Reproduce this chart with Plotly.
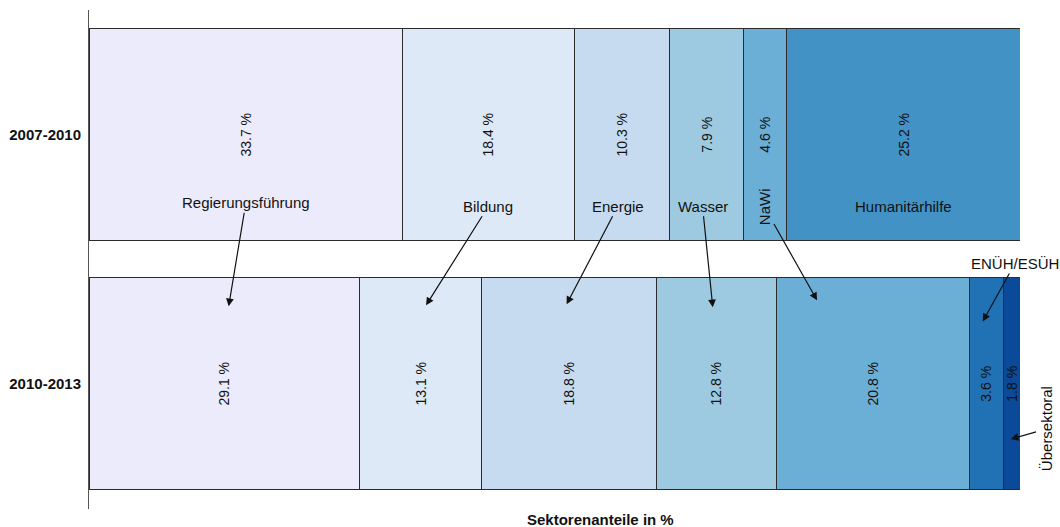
import plotly.graph_objects as go

# Periods (bottom to top on the category axis)
periods = ["2010-2013", "2007-2010"]

# Sector shares in % per period: [2010-2013, 2007-2010]
sectors = ["Regierungsführung", "Bildung", "Energie", "Wasser", "NaWi",
           "Humanitärhilfe", "ENÜH/ESÜH", "Übersektoral"]
regierung = [29.1, 33.7]
bildung = [13.1, 18.4]
energie = [18.8, 10.3]
wasser = [12.8, 7.9]
nawi = [20.8, 4.6]
humanitaer = [None, 25.2]
enueh = [3.6, None]
uebersektoral = [1.8, None]

shares = [regierung, bildung, energie, wasser, nawi, humanitaer, enueh, uebersektoral]
colors = ["#ECEBFB", "#DDE9F6", "#C6DBEF", "#9ECAE1", "#6BAED6",
          "#4292C6", "#2171B5", "#0A4A98"]

FONT = "Liberation Sans, Arial, Helvetica, sans-serif"

fig = go.Figure()
for name, vals, col in zip(sectors, shares, colors):
    fig.add_trace(go.Bar(
        y=periods, x=vals, name=name, orientation="h",
        marker=dict(color=col, line=dict(color="#2b2b2b", width=1)),
        texttemplate="%{x:.1f} %", textposition="inside",
        insidetextanchor="middle", textangle=-90,
        textfont=dict(family=FONT, size=14, color="#111111"),
        constraintext="none", hoverinfo="skip", showlegend=False,
    ))

# Top-row segment centres (2007-2010) for the sector captions
top_centres = {}
acc = 0.0
for name, vals in zip(sectors, shares):
    v = vals[1]
    if v is not None:
        top_centres[name] = acc + v / 2
        acc += v

# Caption placement (tail) and arrow target (head) in data units
caption_y = 0.713
arrows = [
    # label, head x, head y, tail x, tail y, text angle
    ("Regierungsführung", 15.0, 0.311, top_centres["Regierungsführung"], 0.727, 0),
    ("Bildung", 36.2, 0.315, top_centres["Bildung"], caption_y, 0),
    ("Energie", 51.3, 0.319, 56.8, caption_y, 0),
    ("Wasser", 67.0, 0.307, 65.9, caption_y, 0),
    ("NaWi", 78.2, 0.335, 72.5, caption_y, -90),
    ("ENÜH/ESÜH", 96.0, 0.25, 99.45, 0.483, 0),
    ("Übersektoral", 99.0, -0.222, 102.8, -0.182, -90),
]

annotations = []
for label, hx, hy, tx, ty, ang in arrows:
    annotations.append(dict(
        x=hx, y=hy, xref="x", yref="y",
        ax=tx, ay=ty, axref="x", ayref="y",
        text=label, textangle=ang, showarrow=True,
        arrowhead=2, arrowsize=1.3, arrowwidth=1.2, arrowcolor="#111111",
        standoff=0, font=dict(family=FONT, size=15, color="#111111"),
    ))

annotations.append(dict(
    x=top_centres["Humanitärhilfe"], y=caption_y, xref="x", yref="y",
    text="Humanitärhilfe", showarrow=False,
    font=dict(family=FONT, size=15, color="#111111"),
))

annotations.append(dict(
    x=0.549, y=-0.022, xref="paper", yref="paper",
    xanchor="center", yanchor="middle",
    text="<b>Sektorenanteile in %</b>", showarrow=False,
    font=dict(family=FONT, size=15, color="#111111"),
))

fig.update_layout(
    width=1060, height=527,
    margin=dict(l=89, r=40, t=10, b=18),
    barmode="stack", bargap=0.15,
    plot_bgcolor="white", paper_bgcolor="white",
    uniformtext=dict(minsize=14, mode="show"),
    annotations=annotations,
    font=dict(family=FONT, color="#111111"),
)
fig.update_xaxes(range=[0, 100], showgrid=False, zeroline=False,
                 showticklabels=False, showline=False, fixedrange=True)
fig.update_yaxes(type="category", categoryorder="array", categoryarray=periods,
                 range=[-0.503, 1.501], showgrid=False, zeroline=False,
                 showline=True, linecolor="#555555", linewidth=1, ticks="",
                 tickfont=dict(family=FONT, size=15, color="#111111", weight="bold"),
                 ticklabelstandoff=4)

fig.write_html("out.html")
